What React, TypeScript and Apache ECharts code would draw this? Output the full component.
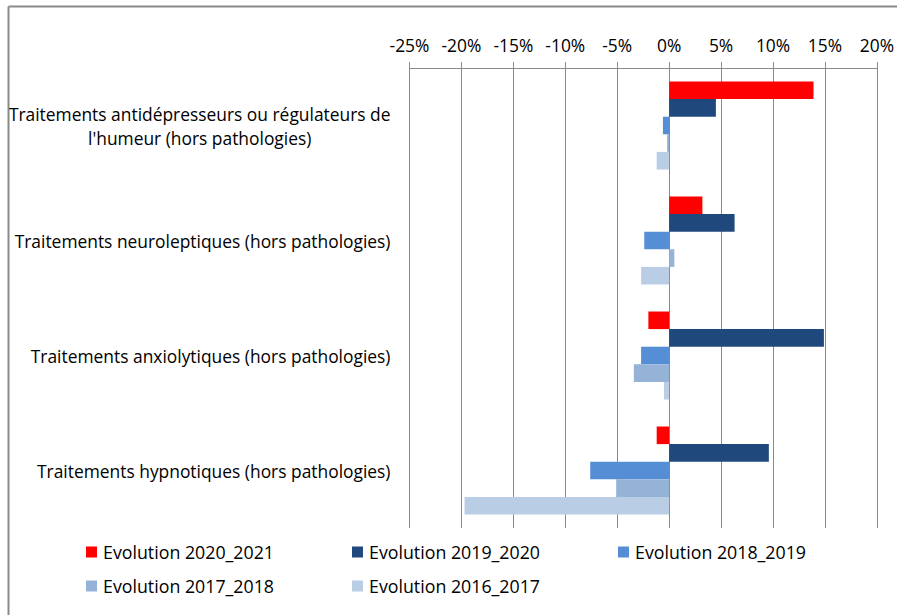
import React, { useEffect, useRef } from "react";
import * as echarts from "echarts";

const categories = [
  "Traitements antidépresseurs ou régulateurs de\nl'humeur (hors pathologies)",
  "Traitements neuroleptiques (hors pathologies)",
  "Traitements anxiolytiques (hors pathologies)",
  "Traitements hypnotiques (hors pathologies)",
];
const seriesNames = [
  "Evolution 2020_2021",
  "Evolution 2019_2020",
  "Evolution 2018_2019",
  "Evolution 2017_2018",
  "Evolution 2016_2017",
];
const evol2020_2021 = [13.9, 3.2, -2.0, -1.2];
const evol2019_2020 = [4.5, 6.3, 14.9, 9.6];
const evol2018_2019 = [-0.6, -2.4, -2.7, -7.6];
const evol2017_2018 = [-0.2, 0.5, -3.4, -5.1];
const evol2016_2017 = [-1.2, -2.7, -0.5, -19.7];
const seriesValues = [evol2020_2021, evol2019_2020, evol2018_2019, evol2017_2018, evol2016_2017];
const seriesColors = ["#FF0000", "#1F497D", "#558ED5", "#95B3D7", "#B9CDE5"];
const xMin = -25;
const xMax = 20;
const xStep = 5;

const FONT = "Open Sans";
const LABEL_SIZE = 17.4;
const LEGEND_SIZE = 17.8;

export default function App() {
  const ref = useRef<HTMLDivElement>(null);
  useEffect(() => {
    document.body.style.margin = "0";
    const chart = echarts.init(ref.current!, null, { renderer: "svg" });
    const legendText = {
      fontSize: LEGEND_SIZE,
      fontFamily: FONT,
      color: "#000",
      width: 239,
      lineHeight: 22,
      padding: [0, 0, 0, 1],
    };
    const legendBase = {
      left: 86,
      width: 820,
      padding: 0,
      orient: "horizontal",
      icon: "rect",
      itemWidth: 11,
      itemHeight: 11,
      itemGap: 10,
      selectedMode: false,
      textStyle: legendText,
    };
    chart.setOption({
      animation: false,
      backgroundColor: "#ffffff",
      textStyle: { fontFamily: FONT },
      grid: { left: 409.5, top: 68, width: 472, height: 460, containLabel: false },
      xAxis: {
        type: "value",
        position: "top",
        min: xMin,
        max: xMax,
        interval: xStep,
        axisLine: { show: true, lineStyle: { color: "#898989", width: 1 } },
        axisTick: { show: true, inside: false, length: 6, lineStyle: { color: "#898989" } },
        splitLine: { show: true, lineStyle: { color: "#898989", width: 1 } },
        axisLabel: {
          formatter: (v: number) => `${v}%`,
          color: "#000",
          fontSize: LABEL_SIZE,
          fontFamily: FONT,
          margin: 15,
        },
      },
      yAxis: {
        type: "category",
        data: categories,
        inverse: true,
        axisLine: { show: false },
        axisTick: { show: false },
        splitLine: { show: false },
        axisLabel: {
          margin: 19,
          color: "#000",
          fontSize: LABEL_SIZE,
          fontFamily: FONT,
          lineHeight: 24,
          formatter: (v: string) => {
            const lines = v.split("\n");
            return lines
              .map((l, i) => (i === 0 ? `{a|${l}}` : `{c|${l}}`))
              .join("\n");
          },
          rich: {
            a: { fontSize: LABEL_SIZE, fontFamily: FONT, color: "#000", lineHeight: 24 },
            c: { fontSize: LABEL_SIZE, fontFamily: FONT, color: "#000", lineHeight: 24, align: "center" },
          },
        },
      },
      legend: [
        { ...legendBase, data: seriesNames.slice(0, 3), top: 541 },
        { ...legendBase, data: seriesNames.slice(3), top: 575 },
      ],
      graphic: [
        { type: "line", shape: { x1: 8.5, y1: 6.5, x2: 897, y2: 6.5 }, style: { stroke: "#898989", lineWidth: 2 } },
        { type: "line", shape: { x1: 8.5, y1: 6.5, x2: 8.5, y2: 615 }, style: { stroke: "#898989", lineWidth: 2 } },
      ],
      series: seriesNames.map((name, i) => ({
        name,
        type: "bar",
        data: seriesValues[i],
        itemStyle: { color: seriesColors[i] },
        barGap: "0%",
        barCategoryGap: "23.5%",
      })),
    });
    return () => chart.dispose();
  }, []);
  return <div ref={ref} style={{ width: 897, height: 615 }} />;
}
